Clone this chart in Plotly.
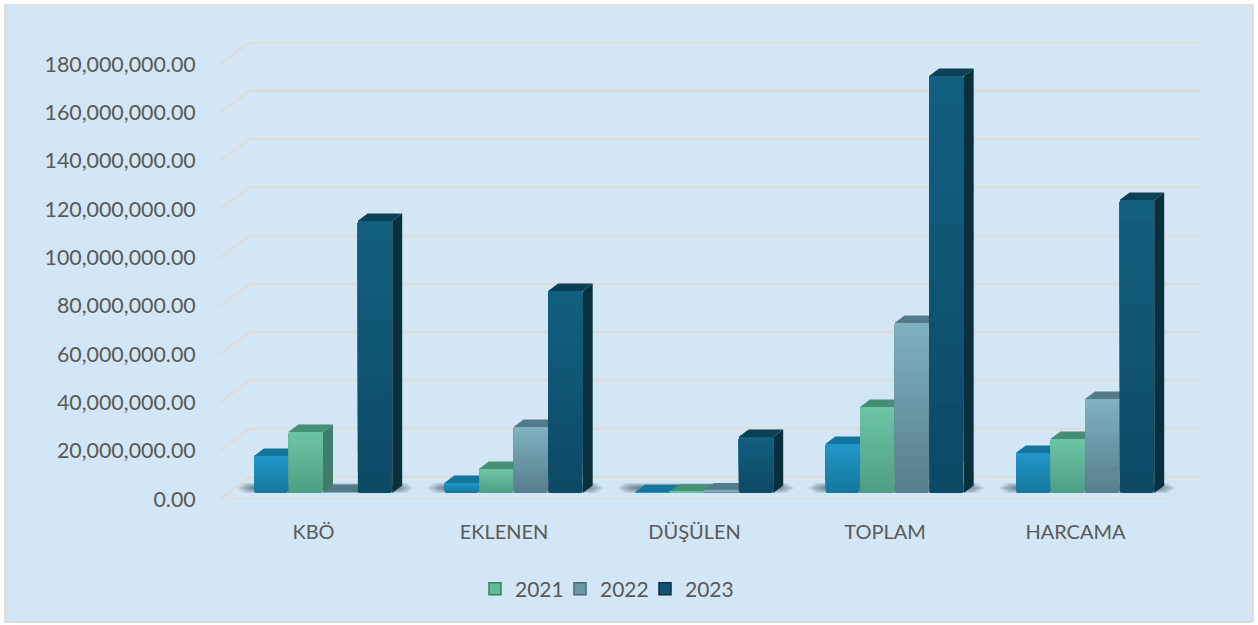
import plotly.graph_objects as go

categories = ["KBÖ", "EKLENEN", "DÜŞÜLEN", "TOPLAM", "HARCAMA"]
series_names = ["2020", "2021", "2022", "2023"]
values_2020 = [15.3, 4.1, 0.3, 20.3, 16.6]
values_2021 = [25.3, 9.9, 0.5, 35.6, 22.4]
values_2022 = [0.4, 27.3, 1.0, 70.4, 38.9]
values_2023 = [112.6, 83.6, 23.2, 172.7, 121.3]
y_ticks = [i * 20 for i in range(10)]
series_values = [values_2020, values_2021, values_2022, values_2023]

W, H = 1258, 625
L, R, T, B = 217, 1200, 42, 499
PX_X = 190.5
PX_Y = 2.415          # pixels per million
X0 = 315

def dx(p): return p / PX_X
def dy(p): return p / PX_Y

x_range = [(L - X0) / PX_X, (R - X0) / PX_X]
y_range = [0, (B - T) / PX_Y]
BASE = dy(6)
BW = dx(34.6)
SHIFT = dx(8)
DEPTH_X, DEPTH_Y = dx(10), dy(7.5)
GRID_X, GRID_Y = dx(30), dy(22)
left_front = dx(220 - X0)
right_front = dx(1170 - X0)
right_back = dx(1200 - X0)

front_top = ["#2196c8", "#6cc4a4", "#7eb0bd", "#125f80"]
front_bot = ["#15799f", "#4f9f84", "#587f8e", "#0c4a66"]
side_col = ["#0f5f80", "#3f7d68", "#466a78", "#09303f"]
top_col = ["#14769e", "#468f77", "#527a88", "#0b4057"]
legend_col = ["#2196c8", "#5fb899", "#6a98a6", "#0f5474"]
legend_edge = ["#15799f", "#3f7d68", "#466a78", "#09303f"]

def mix(a, b, t):
    ca = [int(a[i:i + 2], 16) for i in (1, 3, 5)]
    cb = [int(b[i:i + 2], 16) for i in (1, 3, 5)]
    return "#" + "".join(f"{round(x + (y - x) * t):02x}" for x, y in zip(ca, cb))

def poly(pts):
    return "M " + " L ".join(f"{x} {y}" for x, y in pts) + " Z"

shapes = [dict(type="rect", xref="paper", yref="paper", layer="below",
               x0=(5 - L) / (R - L), x1=(1253 - L) / (R - L),
               y0=(B - 622) / (B - T), y1=(B - 5) / (B - T),
               fillcolor="#D2E6F5", line=dict(color="#D9D9D9", width=1.5))]

GRID = "#DDDCD8"
for t in y_ticks:
    shapes.append(dict(type="path", xref="x", yref="y", layer="below",
                       path=f"M {left_front} {t} L {left_front + GRID_X} {t + GRID_Y} L {right_back} {t + GRID_Y}",
                       line=dict(color=GRID, width=2.2)))
shapes.append(dict(type="line", xref="x", yref="y", layer="below",
                   x0=left_front, x1=right_front, y0=0.0, y1=0.0,
                   line=dict(color=GRID, width=2.2)))

# soft floor shadows
for i in range(len(categories)):
    xa = i + SHIFT - 2 * BW - dx(17)
    xb = i + SHIFT + 2 * BW + dx(21)
    mid = BASE + dy(5)
    for k in range(8):
        ix = dx(2) * k
        iy = dy(0.6) * k
        shapes.append(dict(type="path", xref="x", yref="y", layer="below",
                           path=poly([(xa + ix, mid), (xa + ix + dx(7), BASE + iy),
                                      (xb - ix - dx(7), BASE + iy), (xb - ix, mid),
                                      (xb - ix - dx(7), BASE + dy(10) - iy),
                                      (xa + ix + dx(7), BASE + dy(10) - iy)]),
                           fillcolor="rgba(30,50,65,0.09)", line=dict(width=0)))

# depth faces of each bar
for s, vals in enumerate(series_values):
    for i, v in enumerate(vals):
        xl = i + SHIFT + (s - 2) * BW
        xr = xl + BW
        top = BASE + v
        shapes.append(dict(type="path", xref="x", yref="y", layer="below",
                           path=poly([(xr, BASE), (xr + DEPTH_X, BASE + DEPTH_Y),
                                       (xr + DEPTH_X, top + DEPTH_Y), (xr, top)]),
                           fillcolor=side_col[s], line=dict(width=0)))
        shapes.append(dict(type="path", xref="x", yref="y", layer="below",
                           path=poly([(xl, top), (xl + DEPTH_X, top + DEPTH_Y),
                                       (xr + DEPTH_X, top + DEPTH_Y), (xr, top)]),
                           fillcolor=top_col[s], line=dict(width=0)))

fig = go.Figure()
N = 14
for s, vals in enumerate(series_values):
    xs = [i + SHIFT + (s - 1.5) * BW for i in range(len(vals))]
    for k in range(N):
        fig.add_trace(go.Bar(
            x=xs, y=[v * (N - k) / N for v in vals],
            base=[BASE + v * k / N for v in vals],
            width=BW * 0.985, showlegend=False, hoverinfo="skip",
            marker=dict(color=mix(front_bot[s], front_top[s], k / (N - 1)),
                        line=dict(width=0), cornerradius=2),
        ))
    if s > 0:
        fig.add_trace(go.Bar(x=[None], y=[None], name=series_names[s],
                             marker=dict(color=legend_col[s],
                                         line=dict(width=1.5, color=legend_edge[s]))))

# blank trailing legend slot, keeps the last label from being clipped by the fixed entry width
fig.add_trace(go.Bar(x=[None], y=[None], name="\u00a0",
                     marker=dict(color="rgba(0,0,0,0)", line=dict(width=0))))

FONT = "Lato"
TXT = "#595959"
fig.update_layout(
    width=W, height=H, barmode="overlay",
    margin=dict(l=L, r=W - R, t=T, b=H - B, pad=0),
    paper_bgcolor="white", plot_bgcolor="rgba(0,0,0,0)",
    font=dict(family=FONT, color=TXT, size=20),
    shapes=shapes,
    xaxis=dict(range=x_range, tickmode="array",
               tickvals=[i - dx(1.5) for i in range(len(categories))],
               ticktext=categories, showgrid=False, zeroline=False, showline=False,
               ticks="outside", ticklen=15, tickcolor="rgba(0,0,0,0)",
               tickfont=dict(family=FONT, size=20, color=TXT)),
    yaxis=dict(range=y_range, tickmode="array", tickvals=y_ticks,
               ticktext=[f"{t * 1000000:,.2f}" for t in y_ticks],
               showgrid=False, zeroline=False, showline=False,
               ticks="outside", ticklen=16, tickcolor="rgba(0,0,0,0)",
               tickfont=dict(family=FONT, size=21.4, color=TXT)),
    legend=dict(orientation="h", xanchor="center", yanchor="middle",
                x=(645 - L) / (R - L), y=(B - 589) / (B - T),
                entrywidth=40, entrywidthmode="pixels",
                font=dict(family=FONT, size=21, color=TXT),
                bgcolor="rgba(0,0,0,0)", traceorder="normal"),
)
fig.write_html("out.html", config=dict(displayModeBar=False),
               post_script="document.body.style.margin='0';")
